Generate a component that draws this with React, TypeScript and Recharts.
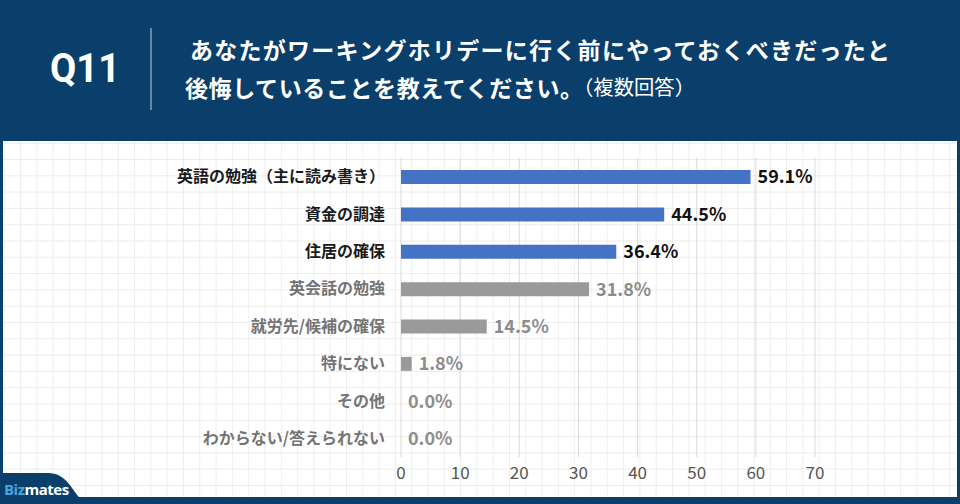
import { BarChart, Bar, XAxis, YAxis, CartesianGrid, Cell } from "recharts"

const categories = [
  "英語の勉強（主に読み書き）",
  "資金の調達",
  "住居の確保",
  "英会話の勉強",
  "就労先/候補の確保",
  "特にない",
  "その他",
  "わからない/答えられない",
]
const values = [59.1, 44.5, 36.4, 31.8, 14.5, 1.8, 0.0, 0.0]
const highlighted = [true, true, true, false, false, false, false, false]
const xTicks = [0, 10, 20, 30, 40, 50, 60, 70]

const titleLine1 = "あなたがワーキングホリデーに行く前にやっておくべきだったと"
const titleLine2 = "後悔していることを教えてください。"
const titleNote = "（複数回答）"

const NAVY = "#0b3f6b"
const BLUE = "#4472c4"
const GRAY = "#9a9a9a"
const FONT = "'Noto Sans CJK JP', 'Noto Sans', sans-serif"

const data = categories.map((name, i) => ({ name, value: values[i], hi: highlighted[i] }))

const CategoryTick = (props: any) => {
  const { x, y, payload } = props
  const idx = categories.indexOf(payload.value)
  const hi = highlighted[idx]
  return (
    <text
      x={x}
      y={y}
      dy="0.35em"
      textAnchor="end"
      fontFamily={FONT}
      fontSize={16}
      fontWeight={700}
      fill={hi ? "#1a1a1a" : "#747474"}
    >
      {payload.value}
    </text>
  )
}

const ValueLabel = (props: any) => {
  const { x, y, width, height, index } = props
  const hi = highlighted[index]
  const w = values[index] === 0 ? 0 : Number(width)
  return (
    <text
      x={Number(x) + w + 7}
      y={Number(y) + Number(height) / 2}
      dy="0.36em"
      fontFamily={FONT}
      fontSize={18}
      fontWeight={700}
      fill={hi ? "#111111" : "#8c8c8c"}
    >
      {values[index].toFixed(1)}%
    </text>
  )
}

export default function App() {
  return (
    <div style={{ position: "relative", width: 960, height: 504, background: NAVY, overflow: "hidden" }}>
      <style>{`body{margin:0}`}</style>
      <svg width={960} height={504} style={{ position: "absolute", left: 0, top: 0 }}>
        <defs>
          <pattern id="bg-grid" x={3.7} y={142.7} width={16.3} height={16.3} patternUnits="userSpaceOnUse">
            <path d="M 0 0 L 0 16.3 M 0 0 L 16.3 0" stroke="#e6e6e6" strokeWidth={1.3} fill="none" />
          </pattern>
        </defs>
        <rect x={3} y={141} width={954} height={356} fill="#ffffff" />
        <rect x={3} y={141} width={954} height={356} fill="url(#bg-grid)" />

        <text x={50} y={82} fill="#ffffff" fontFamily="Roboto, Inter, sans-serif" fontWeight={700} fontSize={41} textLength={70} lengthAdjust="spacingAndGlyphs">
          Q11
        </text>
        <line x1={151} y1={28} x2={151} y2={110} stroke="#8aa0b8" strokeWidth={1.5} />

        <text x={190} y={59} fill="#ffffff" fontFamily={FONT} fontWeight={700} fontSize={23} textLength={700} lengthAdjust="spacing">
          {titleLine1}
        </text>
        <text x={185} y={97} fill="#ffffff" fontFamily={FONT} fontWeight={700} fontSize={23} textLength={398} lengthAdjust="spacing">
          {titleLine2}
        </text>
        <text x={573} y={95} fill="#ffffff" fontFamily={FONT} fontWeight={400} fontSize={20} textLength={122} lengthAdjust="spacingAndGlyphs">
          {titleNote}
        </text>
      </svg>

      <div style={{ position: "absolute", left: 0, top: 0 }}>
        <BarChart
          width={960}
          height={504}
          data={data}
          layout="vertical"
          margin={{ top: 158, right: 145, left: 0, bottom: 17 }}
          barCategoryGap={0}
        >
          <CartesianGrid horizontal={false} stroke="#dadada" />
          <XAxis
            type="number"
            domain={[0, 70]}
            ticks={xTicks}
            axisLine={false}
            tickLine={false}
            tickMargin={4}
            tick={{ fontSize: 17, fill: "#555555", fontFamily: FONT }}
          />
          <YAxis
            type="category"
            dataKey="name"
            width={401}
            axisLine={false}
            tickLine={false}
            tickMargin={10}
            tick={<CategoryTick />}
            interval={0}
          />
          <Bar dataKey="value" barSize={14} minPointSize={0.01} isAnimationActive={false} label={<ValueLabel />}>
            {data.map((d, i) => (
              <Cell key={`cell-${i}`} fill={d.hi ? BLUE : GRAY} />
            ))}
          </Bar>
        </BarChart>
      </div>

      <svg width={960} height={504} style={{ position: "absolute", left: 0, top: 0, pointerEvents: "none" }}>
        <rect x={0} y={141} width={3} height={363} fill={NAVY} />
        <rect x={957} y={141} width={3} height={363} fill={NAVY} />
        <rect x={0} y={497} width={960} height={7} fill={NAVY} />
        <path d="M 0 473 L 48 473 C 66 473 72 490 80 498 L 0 498 Z" fill={NAVY} />
        <text x={4} y={495} fontFamily="'Open Sans', Lato, sans-serif" fontWeight={700} fontSize={15} letterSpacing={-0.5}>
          <tspan fill="#4aa3df">Biz</tspan>
          <tspan fill="#ffffff">mates</tspan>
        </text>
      </svg>
    </div>
  )
}
